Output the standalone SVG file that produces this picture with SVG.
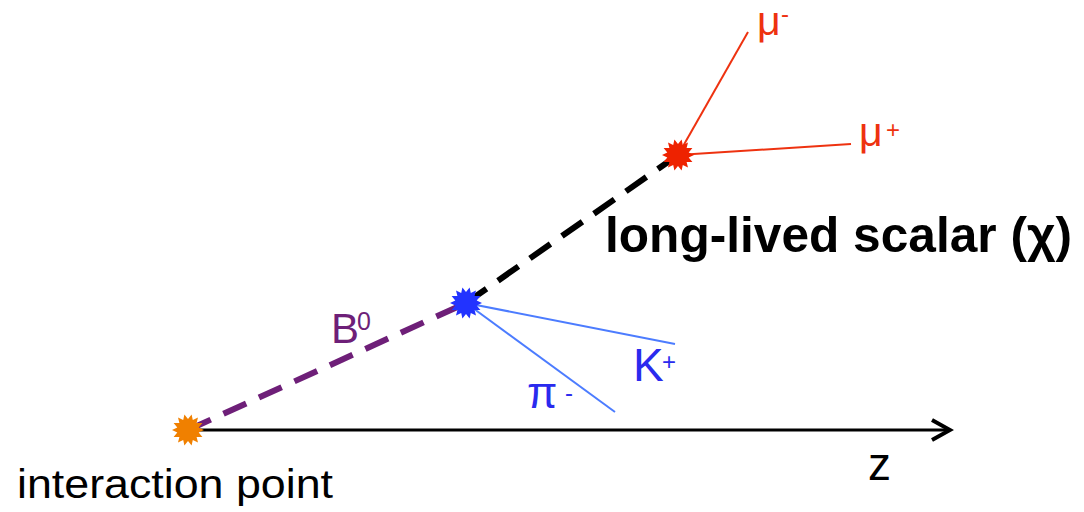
<svg xmlns="http://www.w3.org/2000/svg" xmlns:xlink="http://www.w3.org/1999/xlink" width="1084" height="512" viewBox="0 0 1084 512">
<style>
  text { font-family: "Liberation Sans", Arial, sans-serif; }
  .red { fill: #EE3210; }
  .blue { fill: #2A2AEE; }
  .purple { fill: #6E1F78; }
  .dark { fill: #000000; }
  .trk-red { stroke: #EE3210; stroke-width: 2; fill: none; }
  .trk-blue { stroke: #4C7CFF; stroke-width: 2; fill: none; }
  .dash { stroke-width: 6; stroke-dasharray: 25 14; fill: none; }
</style>
<defs>
  <polygon id="star" points="16,0 10.7,2.4 14.4,6.9 8.6,6.9 10,12.5 4.8,9.9 3.6,15.6 0,11 -3.6,15.6 -4.8,9.9 -10,12.5 -8.6,6.9 -14.4,6.9 -10.7,2.4 -16,0 -10.7,-2.4 -14.4,-6.9 -8.6,-6.9 -10,-12.5 -4.8,-9.9 -3.6,-15.6 0,-11 3.6,-15.6 4.8,-9.9 10,-12.5 8.6,-6.9 14.4,-6.9 10.7,-2.4"/>
  <marker id="open-arrow" markerWidth="24" markerHeight="24" viewBox="0 0 24 24" refX="20" refY="12" markerUnits="userSpaceOnUse" orient="auto">
    <path d="M2,2 L20,12 L2,22" fill="none" stroke="#000" stroke-width="4" stroke-linejoin="miter"/>
  </marker>
</defs>
<rect width="1084" height="512" fill="#ffffff"/>
<g id="connectors">
  <line id="z-axis" x1="190" y1="430" x2="950" y2="430" stroke="#000" stroke-width="3" marker-end="url(#open-arrow)"/>
  <line id="b0-track" class="dash" stroke="#6E1F78" x1="188" y1="430" x2="466" y2="303"/>
  <line id="chi-track" class="dash" stroke="#000" x1="466" y1="303" x2="678" y2="155"/>
  <line id="kplus-track" class="trk-blue" x1="466" y1="303" x2="675" y2="344"/>
  <line id="piminus-track" class="trk-blue" x1="466" y1="303" x2="615" y2="412"/>
  <line id="muminus-track" class="trk-red" x1="678" y1="155" x2="748" y2="32"/>
  <line id="muplus-track" class="trk-red" x1="678" y1="155" x2="851" y2="144"/>
</g>
<g id="interaction-point">
  <use xlink:href="#star" href="#star" x="188" y="430" fill="#F08000"/>
  <text x="17" y="498" font-size="40" textLength="316" lengthAdjust="spacingAndGlyphs" class="dark">interaction point</text>
</g>
<g id="b-decay-vertex">
  <use xlink:href="#star" href="#star" x="466" y="303" fill="#2233FF"/>
</g>
<g id="chi-decay-vertex">
  <use xlink:href="#star" href="#star" x="678" y="155" fill="#EE2200"/>
</g>
<g id="labels">
  <text x="331" y="343" font-size="42" class="purple">B</text>
  <text x="357" y="330" font-size="25" class="purple">0</text>
  <text x="605" y="252" font-size="50" font-weight="bold" textLength="467" lengthAdjust="spacingAndGlyphs" class="dark">long-lived scalar (χ)</text>
  <text x="757" y="35" font-size="41" class="red">μ</text>
  <text x="781" y="22" font-size="24" class="red">-</text>
  <text x="859" y="146" font-size="41" class="red">μ</text>
  <text x="886" y="138" font-size="24" class="red">+</text>
  <text x="633" y="381" font-size="46" class="blue">K</text>
  <text x="662" y="370" font-size="24" class="blue">+</text>
  <text x="527" y="408" font-size="44" class="blue">π</text>
  <text x="565" y="401" font-size="24" class="blue">-</text>
  <text x="868" y="480" font-size="46" class="dark">z</text>
</g>
</svg>
